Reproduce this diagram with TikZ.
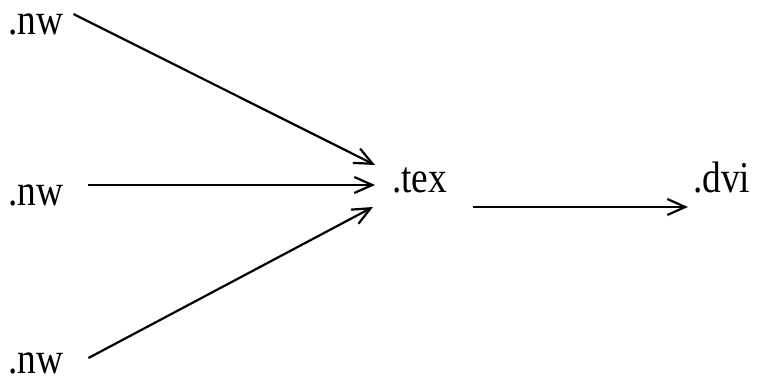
\documentclass[tikz,border=0pt]{standalone}
\usepackage{fontspec}
\setmainfont{Liberation Serif}[FakeStretch=0.85]
\usetikzlibrary{arrows.meta}

\begin{document}
\begin{tikzpicture}[x=1pt,y=1pt,>={Straight Barb[length=18pt,width=16pt,line width=2.2pt]},
 every node/.style={font=\fontsize{44}{48}\selectfont,inner sep=0pt,anchor=base west},
 flow/.style={->,line width=2.2pt}]
\useasboundingbox (0,0) rectangle (763,389);
\node (nwa) at (8,354) {.nw};
\node (nwb) at (8,184) {.nw};
\node (nwc) at (8,16) {.nw};
\node (tex) at (392,197) {.tex};
\node (dvi) at (693,197) {.dvi};
\draw[flow] ([shift={(10,21)}]nwa.base east)--([shift={(-17,27)}]tex.base west);
\draw[flow] ([shift={(25,20)}]nwb.base east)--([shift={(-17,7)}]tex.base west);
\draw[flow] ([shift={(25,15)}]nwc.base east)--([shift={(-19,-15)}]tex.base west);
\draw[flow] ([shift={(26,-15)}]tex.base east)--([shift={(-5,-15)}]dvi.base west);
\end{tikzpicture}
\end{document}
